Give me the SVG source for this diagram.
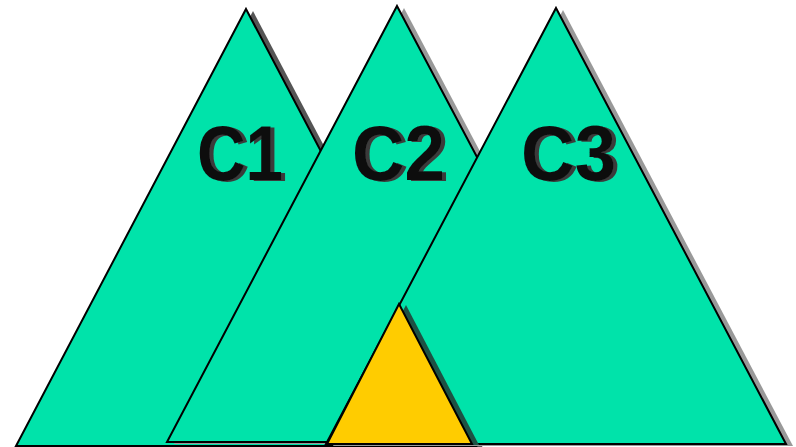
<svg xmlns="http://www.w3.org/2000/svg" width="796" height="447" viewBox="0 0 796 447">
<defs>
<filter id="tsh" x="-10%" y="-10%" width="130%" height="130%">
<feOffset in="SourceAlpha" dx="4" dy="1" result="o"/>
<feFlood flood-color="#3a3a3a"/>
<feComposite in2="o" operator="in" result="s"/>
<feMerge><feMergeNode in="s"/><feMergeNode in="SourceGraphic"/></feMerge>
</filter>
</defs>
<style>
.tri{fill:#00E3AA;stroke:#000;stroke-width:2;stroke-linejoin:miter}
.yel{fill:#FFCC00;stroke:#000;stroke-width:2}
.lbl{font-family:"Liberation Sans",Arial,sans-serif;font-weight:bold;font-size:77px;fill:#111;filter:url(#tsh)}
</style>
<rect width="796" height="447" fill="#fff"/>
<g id="C1">
<polygon points="253,11 483,448 23,448" fill="#555"/>
<polygon class="tri" points="246,9 476,446 16,446"/>
</g>
<g id="C2">
<polygon points="404,8 635,444 174,444" fill="#999"/>
<polygon class="tri" points="397,6 628,442 167,442"/>
</g>
<g id="C3">
<polygon points="563,10 793,446 333,446" fill="#999"/>
<polygon class="tri" points="556,8 786,444 326,444"/>
</g>
<g id="labels">
<text class="lbl" x="197" y="180" textLength="86" lengthAdjust="spacingAndGlyphs">C1</text>
<text class="lbl" x="352" y="180" textLength="93" lengthAdjust="spacingAndGlyphs">C2</text>
<text class="lbl" x="521" y="180" textLength="95" lengthAdjust="spacingAndGlyphs">C3</text>
</g>
<g id="Y">
<polygon points="406,305 479,445 334,445" fill="#1E5244"/>
<polygon class="yel" points="399,304 472,444 327,444"/>
</g>
<g id="connectors"/>
</svg>
